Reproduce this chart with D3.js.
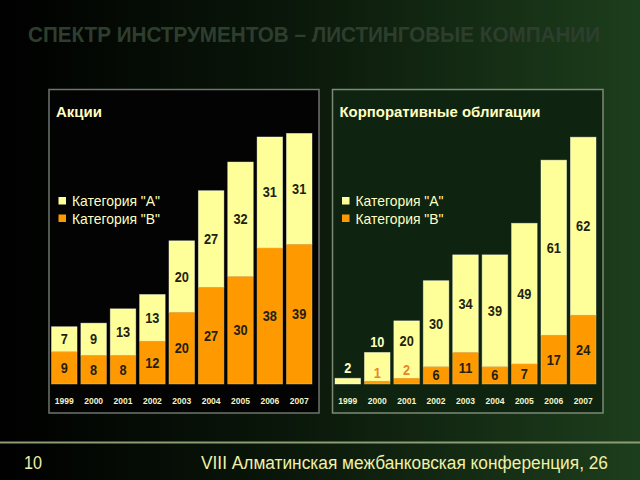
<!DOCTYPE html>
<html><head><meta charset="utf-8">
<script src="https://cdn.jsdelivr.net/npm/d3@7"></script>
<style>html,body{margin:0;padding:0;background:#000;}svg{display:block;}</style>
</head><body>
<svg id="c" width="640" height="480"></svg>
<script>
const years = ["1999","2000","2001","2002","2003","2004","2005","2006","2007"];
const stocksA = [7, 9, 13, 13, 20, 27, 32, 31, 31];
const stocksB = [9, 8, 8, 12, 20, 27, 30, 38, 39];
const bondsA = [2, 10, 20, 30, 34, 39, 49, 61, 62];
const bondsB = [0, 1, 2, 6, 11, 6, 7, 17, 24];
const legendLabels = ['Категория "A"', 'Категория "B"'];
const titleText = "СПЕКТР ИНСТРУМЕНТОВ – ЛИСТИНГОВЫЕ КОМПАНИИ";
const panelTitles = ["Акции", "Корпоративные облигации"];
const footerNum = "10";
const footerText = "VIII Алматинская межбанковская конференция, 26";

const colA = "#ffff99", colB = "#ff9900", light = "#ffffc0";
const sans = "'Liberation Sans',Arial,sans-serif";

const svg = d3.select("#c");
const defs = svg.append("defs");
const g = defs.append("linearGradient").attr("id","bg").attr("x1","0").attr("x2","1").attr("y1","0").attr("y2","0");
g.append("stop").attr("offset","0").attr("stop-color","#000000");
g.append("stop").attr("offset","0.45").attr("stop-color","#0a170a");
g.append("stop").attr("offset","1").attr("stop-color","#1d3e1c");
svg.append("rect").attr("width",640).attr("height",480).attr("fill","url(#bg)");

svg.append("text").attr("x",28).attr("y",42).attr("font-family",sans).attr("font-weight","bold")
  .attr("font-size",22).attr("fill","#2e3e2e").attr("textLength",572).attr("lengthAdjust","spacingAndGlyphs")
  .text(titleText);

svg.append("line").attr("x1",0).attr("x2",640).attr("y1",442.5).attr("y2",442.5)
  .attr("stroke","#8c9c74").attr("stroke-width",2);
svg.append("text").attr("x",24).attr("y",469).attr("font-family",sans).attr("font-size",18)
  .attr("fill","#f0f0a8").attr("textLength",18).attr("lengthAdjust","spacingAndGlyphs").text(footerNum);
svg.append("text").attr("x",201).attr("y",469).attr("font-family",sans).attr("font-size",18)
  .attr("fill","#f0f0a8").attr("textLength",407).attr("lengthAdjust","spacingAndGlyphs").text(footerText);

function panel(opts){
  const {x0,x1,y0,y1,fill,A,B,yMax,title,barL,barR,stroke,titleLen} = opts;
  const p = svg.append("g");
  p.append("rect").attr("x",x0).attr("y",y0).attr("width",x1-x0).attr("height",y1-y0)
    .attr("fill",fill).attr("stroke",stroke).attr("stroke-width",1.5);
  p.append("text").attr("x",x0+7).attr("y",y0+27.5).attr("font-family",sans).attr("font-weight","bold")
    .attr("font-size",15).attr("fill",light).attr("textLength",titleLen).attr("lengthAdjust","spacingAndGlyphs").text(title);
  const lg = p.append("g");
  [colA,colB].forEach((c,i)=>{
    lg.append("rect").attr("x",x0+9.5).attr("y",y0+107.5+i*17.5).attr("width",7.5).attr("height",7.5).attr("fill",c);
    lg.append("text").attr("x",x0+23).attr("y",y0+116.5+i*17.5).attr("font-family",sans).attr("font-size",14.5)
      .attr("fill",light).attr("textLength",88).attr("lengthAdjust","spacingAndGlyphs").text(legendLabels[i]);
  });
  const base = 384;
  const x = d3.scaleBand().domain(years).range([barL,barR]).paddingInner(0.13).paddingOuter(0);
  const y = d3.scaleLinear().domain([0,yMax]).range([base, base - yMax*opts.ppu]);
  const data = years.map((yr,i)=>({yr,a:A[i],b:B[i]}));
  const bars = p.selectAll("g.bar").data(data).enter().append("g");
  bars.append("rect").attr("x",d=>x(d.yr)).attr("width",x.bandwidth())
    .attr("y",d=>y(d.a+d.b)).attr("height",d=>y(d.b)-y(d.a+d.b))
    .attr("fill",colA).attr("stroke","#fffff0").attr("stroke-opacity",0.5).attr("stroke-width",0.8);
  bars.filter(d=>d.b>0).append("rect").attr("x",d=>x(d.yr)).attr("width",x.bandwidth())
    .attr("y",d=>y(d.b)).attr("height",d=>y(0)-y(d.b)).attr("fill",colB)
    .attr("stroke","#ffcc66").attr("stroke-opacity",0.5).attr("stroke-width",0.8);
  const cx = d=>x(d.yr)+x.bandwidth()/2;
  const fs = 14.5;
  const lab = (s, xx, yy, col, t) => s.append("text").attr("x",xx).attr("y",yy).attr("text-anchor","middle")
      .attr("font-family",sans).attr("font-weight","bold").attr("font-size",fs).attr("fill",col)
      .attr("transform",`translate(${xx},0) scale(0.88,1) translate(${-xx},0)`).text(t);
  bars.each(function(d){
    const s = d3.select(this);
    const bH = y(0)-y(d.b), aTop = y(d.a+d.b), aBot = y(d.b);
    const smallB = d.b>0 && bH < 16;
    if (d.b>0){
      if (smallB) lab(s, cx(d), aBot-3, "#e8862a", d.b);
      else lab(s, cx(d), (y(0)+y(d.b))/2+5, "#231f10", d.b);
    }
    const avail = (aBot - (smallB?18:0)) - aTop;
    if (avail < 24) lab(s, cx(d), aTop-5, light, d.a);
    else {
      const mid = smallB ? (aTop + aBot - 18)/2 : (aTop+aBot)/2;
      lab(s, cx(d), mid+5, "#231f10", d.a);
    }
  });
  const ax = d3.axisBottom(x).tickSize(0).tickPadding(0);
  const axg = p.append("g").attr("transform",`translate(0,${base+14})`).call(ax);
  axg.select(".domain").remove();
  axg.selectAll("text").attr("font-family",sans).attr("font-weight","bold").attr("font-size",8.5)
    .attr("fill","#f4f4c8").attr("dy","0.71em");
}

panel({x0:49,x1:319,y0:89.5,y1:413,fill:"#020302",stroke:"#6e766c",A:stocksA,B:stocksB,yMax:70,ppu:3.58,
  title:panelTitles[0],barL:51.5,barR:312,titleLen:46});
panel({x0:332.5,x1:603,y0:89.5,y1:413,fill:"#0f2410",stroke:"#7c8a74",A:bondsA,B:bondsB,yMax:86,ppu:2.87,
  title:panelTitles[1],barL:335,barR:596,titleLen:201});
</script>
</body></html>
